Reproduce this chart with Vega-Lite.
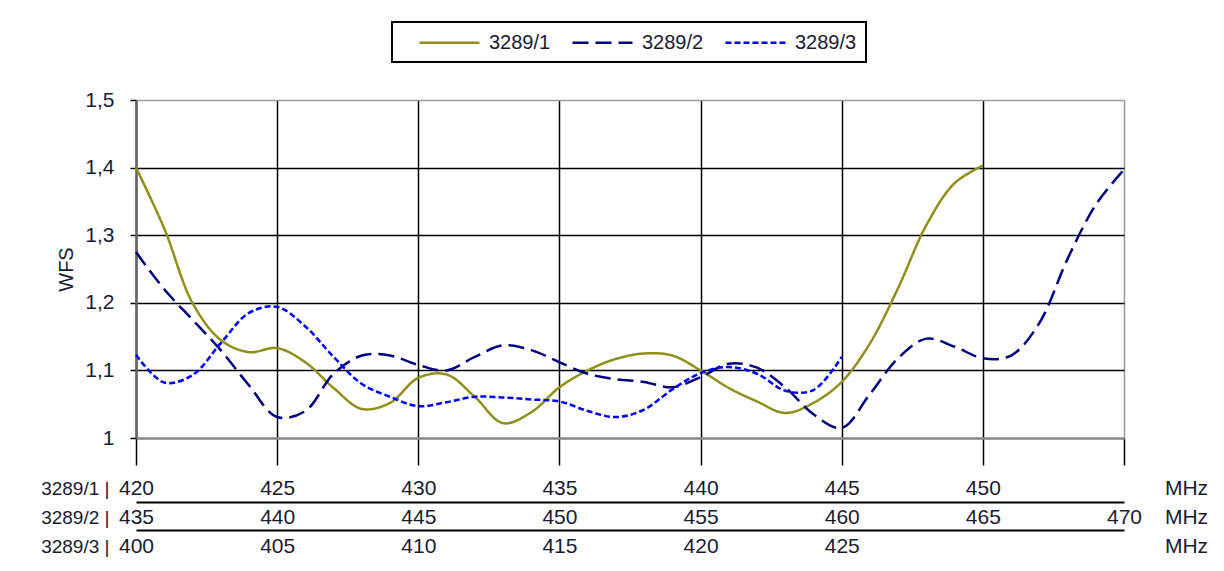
{
  "$schema": "https://vega.github.io/schema/vega-lite/v6.json",
  "width": 988,
  "height": 338,
  "autosize": {"type": "none"},
  "padding": {"left": 136, "top": 100, "right": 100, "bottom": 133},
  "background": "white",
  "config": {
    "view": {"stroke": null},
    "font": "Liberation Sans",
    "axis": {"labelFont": "Liberation Sans", "titleFont": "Liberation Sans", "titleFontWeight": "normal", "labelFlush": false},
    "legend": {"labelFont": "Liberation Sans", "strokeWidth": 2}
  },
  "data": {
    "values": [
      {"series": "3289/1", "f": 420, "wfs": 1.400},
      {"series": "3289/1", "f": 421, "wfs": 1.310},
      {"series": "3289/1", "f": 422, "wfs": 1.200},
      {"series": "3289/1", "f": 423, "wfs": 1.145},
      {"series": "3289/1", "f": 424, "wfs": 1.127},
      {"series": "3289/1", "f": 425, "wfs": 1.133},
      {"series": "3289/1", "f": 426, "wfs": 1.112},
      {"series": "3289/1", "f": 427, "wfs": 1.074},
      {"series": "3289/1", "f": 428, "wfs": 1.043},
      {"series": "3289/1", "f": 429, "wfs": 1.052},
      {"series": "3289/1", "f": 430, "wfs": 1.089},
      {"series": "3289/1", "f": 431, "wfs": 1.094},
      {"series": "3289/1", "f": 432, "wfs": 1.061},
      {"series": "3289/1", "f": 433, "wfs": 1.022},
      {"series": "3289/1", "f": 434, "wfs": 1.038},
      {"series": "3289/1", "f": 435, "wfs": 1.075},
      {"series": "3289/1", "f": 436, "wfs": 1.100},
      {"series": "3289/1", "f": 437, "wfs": 1.117},
      {"series": "3289/1", "f": 438, "wfs": 1.125},
      {"series": "3289/1", "f": 439, "wfs": 1.122},
      {"series": "3289/1", "f": 440, "wfs": 1.100},
      {"series": "3289/1", "f": 441, "wfs": 1.074},
      {"series": "3289/1", "f": 442, "wfs": 1.054},
      {"series": "3289/1", "f": 443, "wfs": 1.037},
      {"series": "3289/1", "f": 444, "wfs": 1.052},
      {"series": "3289/1", "f": 445, "wfs": 1.083},
      {"series": "3289/1", "f": 446, "wfs": 1.140},
      {"series": "3289/1", "f": 447, "wfs": 1.222},
      {"series": "3289/1", "f": 448, "wfs": 1.315},
      {"series": "3289/1", "f": 449, "wfs": 1.377},
      {"series": "3289/1", "f": 450, "wfs": 1.403},
      {"series": "3289/2", "f": 435, "wfs": 1.275},
      {"series": "3289/2", "f": 436, "wfs": 1.220},
      {"series": "3289/2", "f": 437, "wfs": 1.175},
      {"series": "3289/2", "f": 438, "wfs": 1.130},
      {"series": "3289/2", "f": 439, "wfs": 1.078},
      {"series": "3289/2", "f": 440, "wfs": 1.031},
      {"series": "3289/2", "f": 441, "wfs": 1.040},
      {"series": "3289/2", "f": 442, "wfs": 1.095},
      {"series": "3289/2", "f": 443, "wfs": 1.122},
      {"series": "3289/2", "f": 444, "wfs": 1.122},
      {"series": "3289/2", "f": 445, "wfs": 1.108},
      {"series": "3289/2", "f": 446, "wfs": 1.100},
      {"series": "3289/2", "f": 447, "wfs": 1.120},
      {"series": "3289/2", "f": 448, "wfs": 1.137},
      {"series": "3289/2", "f": 449, "wfs": 1.130},
      {"series": "3289/2", "f": 450, "wfs": 1.112},
      {"series": "3289/2", "f": 451, "wfs": 1.095},
      {"series": "3289/2", "f": 452, "wfs": 1.087},
      {"series": "3289/2", "f": 453, "wfs": 1.083},
      {"series": "3289/2", "f": 454, "wfs": 1.075},
      {"series": "3289/2", "f": 455, "wfs": 1.090},
      {"series": "3289/2", "f": 456, "wfs": 1.110},
      {"series": "3289/2", "f": 457, "wfs": 1.104},
      {"series": "3289/2", "f": 458, "wfs": 1.075},
      {"series": "3289/2", "f": 459, "wfs": 1.035},
      {"series": "3289/2", "f": 460, "wfs": 1.015},
      {"series": "3289/2", "f": 461, "wfs": 1.065},
      {"series": "3289/2", "f": 462, "wfs": 1.118},
      {"series": "3289/2", "f": 463, "wfs": 1.147},
      {"series": "3289/2", "f": 464, "wfs": 1.135},
      {"series": "3289/2", "f": 465, "wfs": 1.118},
      {"series": "3289/2", "f": 466, "wfs": 1.122},
      {"series": "3289/2", "f": 467, "wfs": 1.170},
      {"series": "3289/2", "f": 468, "wfs": 1.265},
      {"series": "3289/2", "f": 469, "wfs": 1.345},
      {"series": "3289/2", "f": 470, "wfs": 1.397},
      {"series": "3289/3", "f": 400, "wfs": 1.123},
      {"series": "3289/3", "f": 401, "wfs": 1.082},
      {"series": "3289/3", "f": 402, "wfs": 1.093},
      {"series": "3289/3", "f": 403, "wfs": 1.140},
      {"series": "3289/3", "f": 404, "wfs": 1.185},
      {"series": "3289/3", "f": 405, "wfs": 1.194},
      {"series": "3289/3", "f": 406, "wfs": 1.165},
      {"series": "3289/3", "f": 407, "wfs": 1.120},
      {"series": "3289/3", "f": 408, "wfs": 1.080},
      {"series": "3289/3", "f": 409, "wfs": 1.061},
      {"series": "3289/3", "f": 410, "wfs": 1.047},
      {"series": "3289/3", "f": 411, "wfs": 1.053},
      {"series": "3289/3", "f": 412, "wfs": 1.061},
      {"series": "3289/3", "f": 413, "wfs": 1.060},
      {"series": "3289/3", "f": 414, "wfs": 1.057},
      {"series": "3289/3", "f": 415, "wfs": 1.054},
      {"series": "3289/3", "f": 416, "wfs": 1.040},
      {"series": "3289/3", "f": 417, "wfs": 1.031},
      {"series": "3289/3", "f": 418, "wfs": 1.042},
      {"series": "3289/3", "f": 419, "wfs": 1.072},
      {"series": "3289/3", "f": 420, "wfs": 1.096},
      {"series": "3289/3", "f": 421, "wfs": 1.105},
      {"series": "3289/3", "f": 422, "wfs": 1.095},
      {"series": "3289/3", "f": 423, "wfs": 1.070},
      {"series": "3289/3", "f": 424, "wfs": 1.071},
      {"series": "3289/3", "f": 425, "wfs": 1.120}
    ]
  },
  "encoding": {
    "y": {
      "field": "wfs",
      "type": "quantitative",
      "scale": {"domain": [1, 1.5], "nice": false, "zero": false},
      "axis": {
        "title": "WFS",
        "values": [1, 1.1, 1.2, 1.3, 1.4, 1.5],
        "labelExpr": "replace(format(datum.value, '.1~f'), '.', ',')",
        "grid": true,
        "gridColor": {"condition": {"test": "datum.value > 1.45 || datum.value < 1.05", "value": "#9a9a9a"}, "value": "black"},
        "gridWidth": 1.5,
        "domainColor": "#666666",
        "domainWidth": 2.5,
        "tickColor": "black",
        "tickSize": 6,
        "tickWidth": 1.5,
        "labelPadding": 16,
        "labelFontSize": 21,
        "labelColor": "#1a1a33",
        "labelFlush": false,
        "titleFontSize": 20,
        "titleColor": "#1a1a33",
        "titlePadding": 8,
        "titleFontWeight": "normal"
      }
    },
    "color": {
      "field": "series",
      "type": "nominal",
      "scale": {"domain": ["3289/1", "3289/2", "3289/3"], "range": ["#8f8f1a", "#000080", "#0000ff"]},
      "legend": {
        "orient": "none", "legendX": 256, "legendY": -78, "direction": "horizontal", "title": null,
        "symbolType": "M-3,0H3", "symbolSize": 400, "symbolStrokeWidth": 2.5,
        "labelFontSize": 20, "labelColor": "#1a1a33", "labelOffset": 28, "columnPadding": 3,
        "padding": 9, "strokeColor": "black", "fillColor": "white", "symbolOffset": 37
      }
    },
    "strokeDash": {
      "field": "series",
      "type": "nominal",
      "scale": {"domain": ["3289/1", "3289/2", "3289/3"], "range": [[1, 0], [16, 7], [6, 3]]},
      "legend": {
        "orient": "none", "legendX": 256, "legendY": -78, "direction": "horizontal", "title": null,
        "symbolType": "M-3,0H3", "symbolSize": 400, "symbolStrokeWidth": 2.5,
        "labelFontSize": 20, "labelColor": "#1a1a33", "labelOffset": 28, "columnPadding": 3,
        "padding": 9, "strokeColor": "black", "fillColor": "white", "symbolOffset": 37
      }
    }
  },
  "layer": [
    {
      "transform": [{"filter": "datum.series === '3289/1'"}],
      "mark": {"type": "line", "interpolate": "catmull-rom", "strokeWidth": 2.5},
      "encoding": {
        "x": {
          "field": "f",
          "type": "quantitative",
          "scale": {"domain": [420, 455], "nice": false, "zero": false},
          "axis": {
            "orient": "bottom",
            "offset": 0,
            "title": "3289/1 |",
            "values": [420, 425, 430, 435, 440, 445, 450, 455],
            "labelExpr": "datum.value === 455 ? 'MHz' : format(datum.value, '.0f')",
            "labelOffset": {"condition": {"test": "datum.value === 455", "value": 62}, "value": 0},
            "labelFlush": false,
            "labelOverlap": false,
            "labelBound": false,
            "grid": true,
            "gridColor": {"condition": {"test": "datum.value === 455", "value": "#9a9a9a"}, "value": "black"},
            "gridWidth": 1.5,
            "ticks": true,
            "tickSize": 27,
            "tickColor": "black",
            "tickWidth": 1.5,
            "domainColor": "#8a8a8a",
            "domainWidth": 2.5,
            "labelBaseline": "middle",
            "labelPadding": 23,
            "labelFontSize": 21,
            "labelColor": "#1a1a33",
            "titleX": -27,
            "titleY": 50,
            "titleAlign": "right",
            "titleBaseline": "middle",
            "titleAngle": 0,
            "titleFontSize": 19,
            "titleColor": "#1a1a33",
            "titleFontWeight": "normal"
          }
        }
      }
    },
    {
      "transform": [{"filter": "datum.series === '3289/2'"}],
      "mark": {"type": "line", "interpolate": "catmull-rom", "strokeWidth": 2.5},
      "encoding": {
        "x": {
          "field": "f",
          "type": "quantitative",
          "scale": {"domain": [435, 470], "nice": false, "zero": false},
          "axis": {
            "orient": "bottom",
            "offset": 64,
            "title": "3289/2 |",
            "values": [435, 440, 445, 450, 455, 460, 465, 469.999, 470],
            "labelExpr": "datum.value === 470 ? 'MHz' : format(datum.value, '.0f')",
            "labelOffset": {"condition": {"test": "datum.value === 470", "value": 62}, "value": 0},
            "labelFlush": false,
            "labelOverlap": false,
            "labelBound": false,
            "grid": false,
            "ticks": false,
            "tickSize": 0,
            "domainColor": "black",
            "domainWidth": 2,
            "labelBaseline": "middle",
            "labelPadding": 15,
            "labelFontSize": 21,
            "labelColor": "#1a1a33",
            "titleX": -27,
            "titleY": 15,
            "titleAlign": "right",
            "titleBaseline": "middle",
            "titleAngle": 0,
            "titleFontSize": 19,
            "titleColor": "#1a1a33",
            "titleFontWeight": "normal"
          }
        }
      }
    },
    {
      "transform": [{"filter": "datum.series === '3289/3'"}],
      "mark": {"type": "line", "interpolate": "catmull-rom", "strokeWidth": 2.5},
      "encoding": {
        "x": {
          "field": "f",
          "type": "quantitative",
          "scale": {"domain": [400, 435], "nice": false, "zero": false},
          "axis": {
            "orient": "bottom",
            "offset": 92,
            "title": "3289/3 |",
            "values": [400, 405, 410, 415, 420, 425, 435],
            "labelExpr": "datum.value === 435 ? 'MHz' : format(datum.value, '.0f')",
            "labelOffset": {"condition": {"test": "datum.value === 435", "value": 62}, "value": 0},
            "labelFlush": false,
            "labelOverlap": false,
            "labelBound": false,
            "grid": false,
            "ticks": false,
            "tickSize": 0,
            "domainColor": "black",
            "domainWidth": 2,
            "labelBaseline": "middle",
            "labelPadding": 16,
            "labelFontSize": 21,
            "labelColor": "#1a1a33",
            "titleX": -27,
            "titleY": 16,
            "titleAlign": "right",
            "titleBaseline": "middle",
            "titleAngle": 0,
            "titleFontSize": 19,
            "titleColor": "#1a1a33",
            "titleFontWeight": "normal"
          }
        }
      }
    }
  ],
  "resolve": {"scale": {"x": "independent"}, "axis": {"x": "independent"}}
}
